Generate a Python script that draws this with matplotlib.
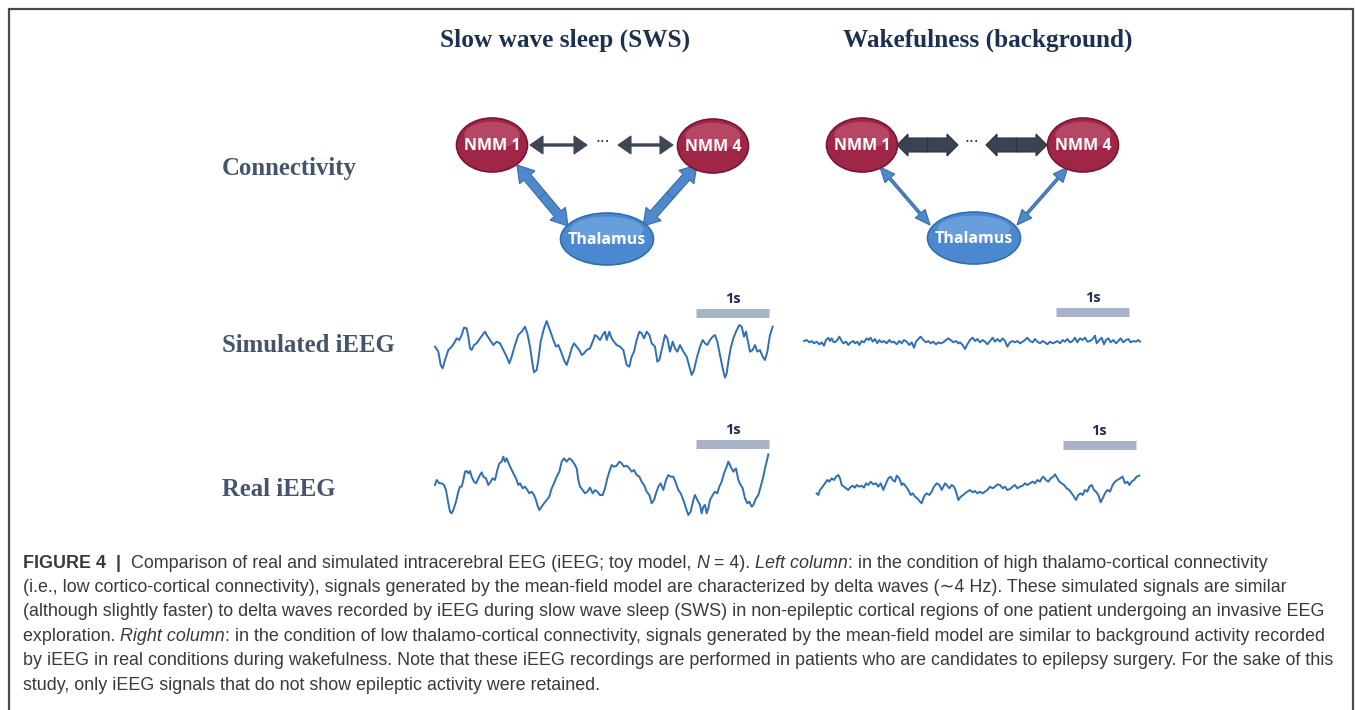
import matplotlib
matplotlib.use("Agg")
import matplotlib.pyplot as plt
from matplotlib.patches import Ellipse, FancyArrow

W, H = 1355, 710

# ---- EEG traces: (sample, amplitude); 220 samples = 1 s, amplitude grows downward
sim_sws_t = [45, 55, 62, 68, 75, 85, 95, 105, 110, 118, 125, 132, 140, 145, 150, 155, 162, 170, 180, 195,
             200, 210, 220, 230, 240, 250, 260, 268, 275, 285, 295, 305, 315, 322, 330, 338, 342, 350, 355, 362,
             372, 380, 388, 395, 400, 408, 415, 425, 432, 440, 448, 455, 462, 470, 478, 485, 492, 500, 510, 520,
             525, 532, 540, 548, 555, 560, 568, 575, 582, 590, 600, 610, 620, 628, 635, 642, 650, 658, 665, 672,
             680, 688, 695, 705, 712, 718, 725, 735, 742, 750, 758, 765, 772, 780, 790, 800, 808, 815, 822, 830,
             840, 848, 855, 862, 870, 878, 885, 892, 900, 908, 915, 920, 925, 932, 940, 948, 958, 965, 972, 978,
             985, 990, 998, 1005, 1012, 1020, 1028, 1035, 1042, 1050, 1058]
sim_sws_v = [185, 200, 240, 250, 225, 195, 185, 170, 160, 165, 150, 128, 130, 155, 190, 195, 180, 175, 160, 140,
             150, 165, 180, 170, 175, 195, 215, 235, 215, 180, 150, 140, 125, 145, 185, 240, 262, 255, 225, 170,
             130, 108, 130, 150, 165, 185, 180, 205, 225, 240, 215, 190, 175, 185, 195, 210, 205, 195, 190, 165,
             150, 155, 165, 150, 140, 165, 140, 160, 170, 180, 185, 195, 240, 245, 215, 200, 165, 140, 145, 160,
             140, 150, 175, 185, 230, 225, 195, 150, 160, 200, 170, 190, 200, 180, 200, 215, 245, 270, 255, 220,
             185, 165, 175, 180, 165, 155, 150, 170, 210, 250, 278, 265, 230, 190, 160, 140, 120, 125, 155, 140,
             175, 200, 195, 180, 200, 195, 215, 225, 200, 150, 125]

sim_wake_t = [42, 50, 58, 65, 72, 80, 88, 95, 102, 108, 115, 120, 125, 130, 135, 142, 148, 155, 160, 168,
              175, 182, 190, 195, 202, 208, 215, 222, 230, 236, 242, 248, 255, 262, 268, 275, 282, 290, 298, 305,
              312, 320, 328, 335, 342, 350, 358, 365, 372, 378, 385, 392, 400, 408, 415, 422, 430, 438, 445, 452,
              460, 468, 475, 482, 490, 498, 505, 510, 518, 525, 532, 540, 548, 555, 562, 570, 578, 585, 592, 600,
              608, 615, 622, 630, 638, 645, 652, 660, 668, 675, 682, 690, 698, 705, 712, 720, 728, 735, 742, 750,
              758, 765, 772, 780, 788, 795, 802, 810, 818, 825, 832, 840, 848, 855, 862, 870, 878, 885, 892, 900,
              908, 915, 920, 928, 935, 942, 948, 955, 962, 970, 978, 985, 992, 1000, 1008, 1015, 1022, 1030, 1038,
              1045, 1050]
sim_wake_v = [168, 165, 172, 168, 175, 170, 178, 172, 182, 165, 158, 168, 160, 170, 172, 165, 155, 168, 175, 170,
              180, 172, 168, 175, 170, 180, 168, 172, 160, 165, 158, 170, 162, 175, 165, 172, 168, 175, 165, 172,
              170, 178, 168, 175, 165, 170, 180, 172, 188, 170, 162, 155, 165, 172, 168, 175, 170, 178, 172, 175,
              172, 165, 160, 165, 172, 168, 175, 172, 180, 192, 178, 165, 158, 168, 162, 172, 165, 170, 178, 168,
              158, 170, 162, 170, 160, 168, 185, 172, 168, 172, 168, 175, 170, 165, 158, 168, 172, 162, 170, 175,
              168, 172, 178, 170, 175, 172, 168, 175, 165, 170, 162, 172, 168, 158, 172, 160, 165, 158, 170, 168,
              162, 152, 175, 165, 158, 178, 165, 160, 172, 165, 175, 168, 160, 172, 165, 162, 172, 168, 170,
              165, 170]

real_sws_t = [45, 50, 58, 65, 72, 78, 85, 90, 95, 100, 108, 115, 120, 125, 130, 135, 140, 145, 150, 155,
              162, 168, 175, 180, 185, 190, 198, 205, 212, 218, 225, 232, 238, 245, 250, 255, 260, 268, 275, 280,
              288, 295, 300, 308, 315, 322, 328, 335, 342, 348, 352, 358, 365, 372, 380, 388, 395, 402, 410, 418,
              425, 432, 440, 448, 455, 462, 470, 475, 480, 488, 495, 502, 510, 518, 525, 532, 540, 548, 555, 562,
              568, 575, 582, 590, 598, 605, 612, 620, 628, 635, 642, 650, 658, 665, 672, 680, 688, 695, 702, 708,
              715, 722, 730, 738, 745, 752, 760, 768, 775, 782, 790, 798, 805, 812, 820, 825, 832, 840, 845, 850,
              855, 860, 865, 870, 878, 885, 892, 898, 905, 912, 920, 925, 932, 940, 948, 955, 962, 968, 975, 982,
              988, 995, 1000, 1008, 1015, 1022, 1030, 1035, 1040, 1045]
real_sws_v = [210, 195, 205, 205, 210, 225, 265, 290, 295, 285, 260, 230, 215, 215, 195, 170, 168, 175, 168, 185,
              200, 205, 190, 180, 172, 185, 190, 210, 200, 190, 195, 165, 145, 140, 125, 140, 130, 150, 165, 175,
              190, 210, 205, 220, 215, 225, 235, 230, 240, 255, 270, 285, 275, 265, 255, 245, 220, 205, 185, 170,
              140, 130, 140, 130, 135, 145, 160, 195, 215, 225, 235, 230, 218, 235, 225, 230, 240, 240, 220, 190,
              170, 150, 155, 152, 140, 145, 155, 152, 160, 170, 165, 180, 185, 200, 210, 230, 240, 265, 255, 235,
              215, 205, 225, 195, 180, 185, 185, 205, 225, 235, 255, 280, 300, 290, 255, 240, 255, 270, 295, 275,
              270, 295, 280, 255, 240, 230, 235, 215, 200, 175, 155, 140, 155, 170, 160, 195, 210, 220, 250, 265,
              260, 275, 270, 250, 240, 215, 185, 160, 140, 118]

real_wake_t = [80, 85, 90, 98, 105, 112, 118, 125, 132, 138, 145, 150, 155, 162, 168, 175, 180, 188, 195, 200,
               208, 215, 222, 228, 235, 242, 250, 258, 265, 272, 280, 288, 295, 302, 308, 315, 320, 328, 335, 340,
               348, 355, 362, 368, 375, 382, 390, 395, 400, 405, 410, 418, 425, 432, 440, 448, 455, 460, 465, 470,
               478, 485, 492, 498, 505, 512, 520, 525, 532, 540, 548, 555, 562, 570, 578, 585, 592, 600, 608, 615,
               622, 630, 638, 645, 652, 660, 668, 675, 682, 690, 698, 705, 712, 720, 728, 735, 742, 750, 755, 760,
               768, 775, 782, 790, 795, 802, 808, 815, 822, 830, 838, 845, 852, 858, 865, 872, 878, 885, 892, 898,
               905, 912, 918, 925, 932, 938, 945, 952, 960, 968, 975, 982, 990, 998, 1005, 1012, 1018, 1025, 1032,
               1040, 1048]
real_wake_v = [235, 240, 225, 215, 205, 195, 200, 190, 195, 185, 180, 190, 210, 215, 220, 225, 218, 212, 218, 210,
               215, 212, 218, 205, 210, 200, 208, 205, 215, 205, 225, 205, 190, 185, 195, 200, 182, 190, 210, 205,
               215, 225, 240, 235, 245, 250, 260, 265, 250, 240, 235, 240, 230, 215, 205, 210, 225, 215, 205, 210,
               220, 210, 215, 230, 255, 245, 240, 235, 230, 225, 232, 228, 235, 230, 235, 230, 225, 215, 220, 215,
               208, 210, 220, 215, 225, 222, 215, 210, 220, 215, 212, 205, 210, 205, 200, 205, 195, 200, 190, 185,
               195, 200, 190, 185, 178, 190, 200, 205, 210, 220, 225, 235, 245, 255, 240, 235, 240, 225, 230, 215,
               210, 225, 230, 240, 262, 250, 235, 225, 230, 210, 200, 195, 190, 185, 205, 200, 210, 200, 195,
               185, 182]

# where the "1s" bar starts, in the same sample units
bar_start = [828, 798, 828, 818]
SAMPLES_PER_S = 220

row_labels = ["Connectivity", "Simulated iEEG", "Real iEEG"]
col_titles = ["Slow wave sleep (SWS)", "Wakefulness (background)"]

caption_lines = [
    [("FIGURE 4", "bold"), ("  |  ", "bold"), ("Comparison of real and simulated intracerebral EEG (iEEG; toy model, ", "normal"),
     ("N", "italic"), (" = 4). ", "normal"), ("Left column", "italic"),
     (": in the condition of high thalamo-cortical connectivity", "normal")],
    [("(i.e., low cortico-cortical connectivity), signals generated by the mean-field model are characterized by delta waves (\u223c4 Hz). These simulated signals are similar", "normal")],
    [("(although slightly faster) to delta waves recorded by iEEG during slow wave sleep (SWS) in non-epileptic cortical regions of one patient undergoing an invasive EEG", "normal")],
    [("exploration. ", "normal"), ("Right column", "italic"),
     (": in the condition of low thalamo-cortical connectivity, signals generated by the mean-field model are similar to background activity recorded", "normal")],
    [("by iEEG in real conditions during wakefulness. Note that these iEEG recordings are performed in patients who are candidates to epilepsy surgery. For the sake of this", "normal")],
    [("study, only iEEG signals that do not show epileptic activity were retained.", "normal")],
]

fig = plt.figure(figsize=(W / 100, H / 100), dpi=100)
ax = fig.add_axes([0, 0, 1, 1])
ax.set_xlim(0, W)
ax.set_ylim(H, 0)
ax.axis("off")


def px_box(x, y, w, h):
    return [x / W, 1 - (y + h) / H, w / W, h / H]


# frame (no bottom edge)
ax.plot([9, 9, 1353, 1353], [H + 5, 9, 9, H + 5], color="#4a4a4a", lw=1.6, solid_joinstyle="miter")

# titles and row labels
navy = "#1c3152"
slate = "#44546a"
for cx, s in zip([565, 988], col_titles):
    ax.text(cx, 40, s, ha="center", va="center", fontsize=18.2, fontweight="bold",
            family="Liberation Serif", color=navy)
for cy, s in zip([168, 345, 490], row_labels):
    ax.text(222, cy, s, ha="left", va="center", fontsize=17.8, fontweight="bold",
            family="Liberation Serif", color=slate)


# ---- connectivity diagrams
def node(cx, cy, w, h, base, light, dark, label):
    ax.add_patch(Ellipse((cx, cy), w, h, facecolor=base, edgecolor=dark, lw=1.2, zorder=3))
    ax.add_patch(Ellipse((cx, cy - h * 0.18), w * 0.78, h * 0.5, facecolor=light, edgecolor="none",
                         alpha=0.45, zorder=3))
    ax.text(cx, cy + 1, label, ha="center", va="center", color="white", fontsize=11.5,
            fontweight="bold", family="Open Sans", zorder=4)


def double_arrow(p0, p1, body, head_w, head_len, color, edge):
    mx, my = (p0[0] + p1[0]) / 2, (p0[1] + p1[1]) / 2
    for px, py in (p0, p1):
        ax.add_patch(FancyArrow(mx, my, px - mx, py - my, width=body, head_width=head_w,
                                head_length=head_len, length_includes_head=True,
                                facecolor=color, edgecolor=edge, lw=0.8, zorder=2))


maroon, maroon_l, maroon_d = "#a02648", "#d0708a", "#7a1634"
blue, blue_l, blue_d = "#4a88cf", "#8ebbea", "#336fae"
dark_arrow = "#3f4756"

# left diagram (SWS)
double_arrow((517, 165), (568, 226), 9, 20, 16, "#4f89cc", "#3a6ea8")
double_arrow((697, 165), (643, 226), 9, 20, 16, "#4f89cc", "#3a6ea8")
double_arrow((530, 145), (587, 145), 2.2, 18, 13, dark_arrow, dark_arrow)
double_arrow((618, 145), (673, 145), 2.2, 18, 13, dark_arrow, dark_arrow)
ax.text(603, 143, "\u00b7\u00b7\u00b7", ha="center", va="center", fontsize=11, color="#333333")
node(492, 145, 71, 54, maroon, maroon_l, maroon_d, "NMM 1")
node(713, 146, 71, 54, maroon, maroon_l, maroon_d, "NMM 4")
node(607, 239, 93, 52, blue, blue_l, blue_d, "Thalamus")

# right diagram (wakefulness)
double_arrow((880, 167), (930, 225), 2.5, 13, 15, "#4f89cc", "#3a6ea8")
double_arrow((1068, 167), (1017, 225), 2.5, 13, 15, "#4f89cc", "#3a6ea8")
double_arrow((897, 145), (958, 145), 14, 22, 11, "#3b4352", "#2c333f")
double_arrow((986, 145), (1047, 145), 14, 22, 11, "#3b4352", "#2c333f")
ax.text(972, 143, "\u00b7\u00b7\u00b7", ha="center", va="center", fontsize=11, color="#333333")
node(862, 145, 71, 54, maroon, maroon_l, maroon_d, "NMM 1")
node(1083, 145, 71, 54, maroon, maroon_l, maroon_d, "NMM 4")
node(974, 238, 93, 52, blue, blue_l, blue_d, "Thalamus")

# ---- EEG panels
panels = [
    ((420, 285, 370, 100), sim_sws_t, sim_sws_v, 85),
    ((790, 285, 370, 100), sim_wake_t, sim_wake_v, 82),
    ((420, 415, 370, 110), real_sws_t, real_sws_v, 87),
    ((790, 415, 370, 110), real_wake_t, real_wake_v, 90),
]
trace_color = "#2f6fb3"
for (box, t, v, bar_y), b0 in zip(panels, bar_start):
    x0, y0, w, h = box
    pa = fig.add_axes(px_box(x0, y0, w, h))
    pa.set_xlim(0, w * 3)
    pa.set_ylim(h * 3, 0)
    pa.axis("off")
    pa.plot(t, v, color=trace_color, lw=1.4, solid_joinstyle="round")
    pa.plot([b0, b0 + SAMPLES_PER_S], [bar_y, bar_y], color="#a8b3c8", lw=6.5, solid_capstyle="butt")
    pa.text(b0 + SAMPLES_PER_S / 2, bar_y - 42, "1s", ha="center", va="center", fontsize=10.5,
            fontweight="bold", family="Open Sans", color="#1f3050")

# ---- caption, drawn run by run on a shared baseline
fig.canvas.draw()
renderer = fig.canvas.get_renderer()
cap_color = "#3a3a3a"
line_y = [568, 592, 616, 641, 665, 690]
for y, runs in zip(line_y, caption_lines):
    x = 23
    for txt, style in runs:
        kw = dict(fontsize=12.9, family=["Liberation Sans", "DejaVu Sans"], color=cap_color)
        if style == "bold":
            kw["fontweight"] = "bold"
        elif style == "italic":
            kw["fontstyle"] = "italic"
        t = ax.text(x, y, txt, va="baseline", ha="left", **kw)
        x += t.get_window_extent(renderer).width

fig.savefig("out.png", dpi=100)
